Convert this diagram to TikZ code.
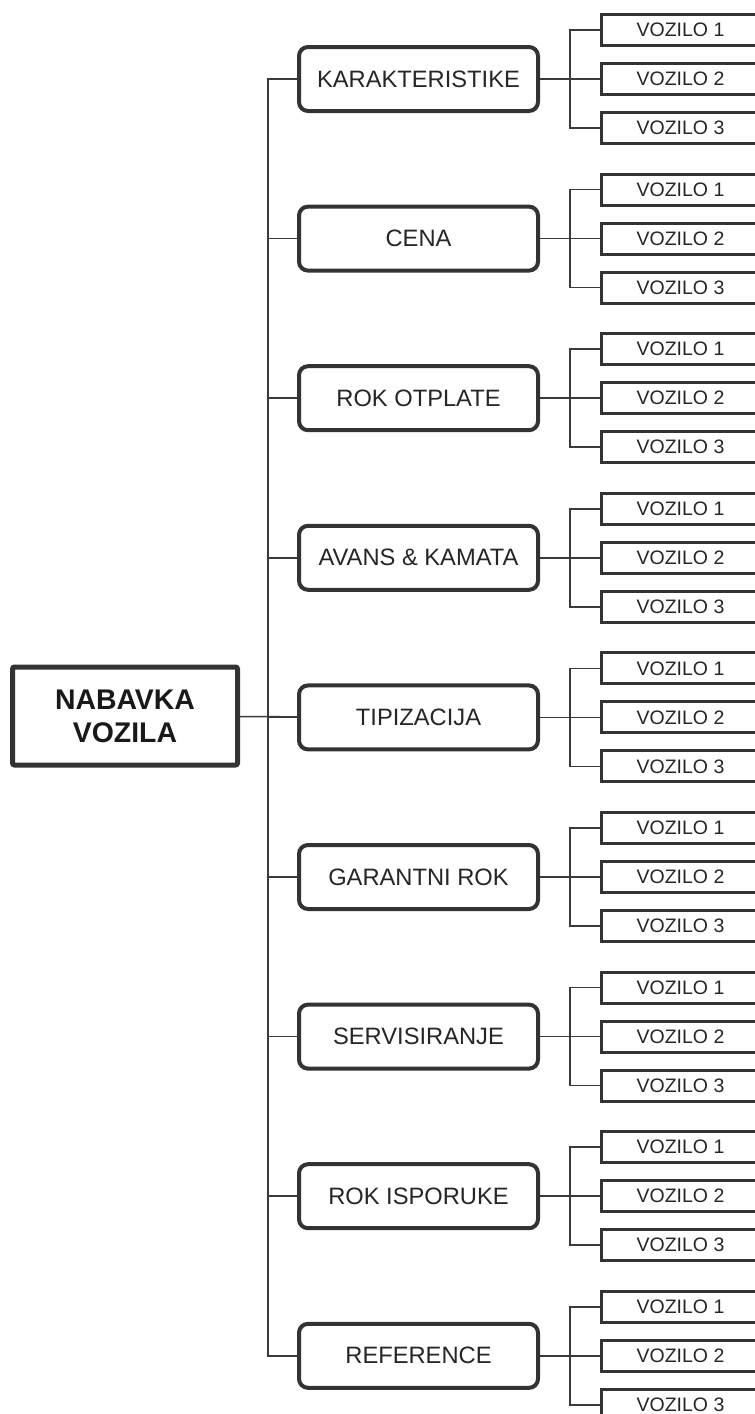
\documentclass[tikz,border=0pt]{standalone}
\usepackage{fontspec}
\setmainfont{Liberation Sans}
\usetikzlibrary{positioning}
\definecolor{boxline}{HTML}{333333}
\definecolor{wire}{HTML}{3A3A3A}

\begin{document}
\begin{tikzpicture}[
    x=1pt, y=-1pt,
    node distance=15pt and 60pt,
    root/.style={draw=boxline, line width=5pt, rounded corners=2pt, align=center,
                 minimum width=225pt, minimum height=98pt, inner sep=0pt,
                 font=\fontsize{28.4}{33}\selectfont\bfseries, text=black!90},
    crit/.style={draw=boxline, line width=4pt, rounded corners=9pt, fill=white,
                 minimum width=239pt, minimum height=64pt, inner sep=0pt,
                 font=\fontsize{23.7}{28}\selectfont, text=black!85},
    leaf/.style={draw=boxline, line width=3pt, fill=white,
                 minimum width=158pt, minimum height=31pt, inner sep=0pt,
                 font=\fontsize{19.5}{23}\selectfont, text=black!85},
    link/.style={draw=wire, line width=1.5pt},
  ]
    \useasboundingbox (0,0) rectangle (755,1414);

    \node[root] (nabavka) at (125,716) {NABAVKA\\VOZILA};

    \foreach \lbl [count=\i] in {KARAKTERISTIKE, CENA, ROK OTPLATE, AVANS \& KAMATA,
        TIPIZACIJA, GARANTNI ROK, SERVISIRANJE, ROK ISPORUKE, REFERENCE} {
      \node[crit] (c\i) at (418.5,{79+159.6*(\i-1)}) {\lbl};
      \node[leaf, right=of c\i] (c\i-v2) {VOZILO 2};
      \node[leaf, above=of c\i-v2] (c\i-v1) {VOZILO 1};
      \node[leaf, below=of c\i-v2] (c\i-v3) {VOZILO 3};

      \draw[link] (c\i.west) -- ++(-29,0);
      \draw[link] (c\i.east) -- (c\i-v2.west);
      \draw[link] (c\i-v1.west) -- ++(-30,0) |- (c\i-v3.west);
    }

    % trunk
    \draw[link] (c1.west) -- ++(-29,0) |- (c9.west);
    \draw[link] (nabavka) -- (c5);
  \end{tikzpicture}
\end{document}
